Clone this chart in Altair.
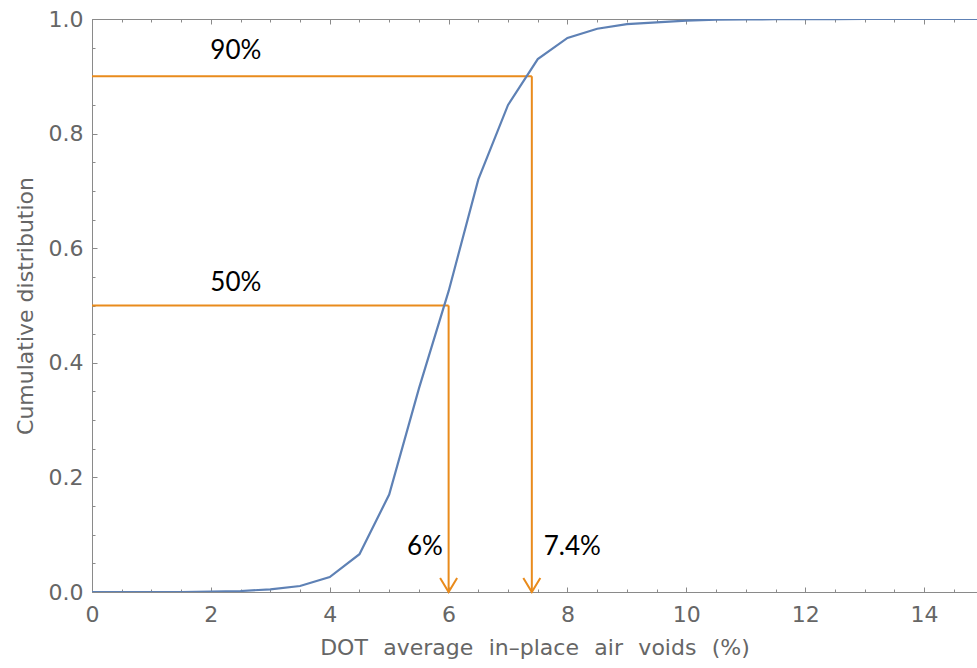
import altair as alt
import pandas as pd

# Cumulative distribution of DOT average in-place air voids (%)
voids = [0, 0.5, 1, 1.5, 2, 2.5, 3, 3.5, 4, 4.5, 5, 5.5, 6, 6.5, 7, 7.5,
         8, 8.5, 9, 9.5, 10, 10.5, 11, 11.5, 12, 12.5, 13, 13.5, 14, 14.5, 15]
cdf = [0, 0, 0, 0, 0.0005, 0.0017, 0.0047, 0.0105, 0.026, 0.066, 0.17, 0.355,
       0.525, 0.72, 0.85, 0.93, 0.967, 0.983, 0.991, 0.994, 0.997, 0.999,
       0.9993, 0.9996, 0.9998, 0.9999, 1, 1, 1, 1, 1]

# Percentile read-offs: cumulative level and the air-void value at that level
pct_levels = [0.5, 0.9]
pct_values = [6.0, 7.4]

# Annotation texts and their anchor points (data units)
label_text = ["90%", "50%", "6%", "7.4%"]
label_x = [2.42, 2.42, 5.6, 8.08]
label_y = [0.944, 0.539, 0.078, 0.078]

# Axis ticks
x_major = [0, 2, 4, 6, 8, 10, 12, 14]
x_minor = [i * 0.5 for i in range(30)]
y_major = [0, 0.2, 0.4, 0.6, 0.8, 1.0]
y_minor = [round(i * 0.05, 2) for i in range(21)]

X_MIN, X_MAX = 0, 14.89
W, H = 885, 573

BLUE = "#5E81B5"
ORANGE = "#E98B1C"
FRAME = "#8a8a8a"
TEXT_GRAY = "#666666"
AXIS_FONT = "DejaVu Sans"

curve = pd.DataFrame({"voids": voids, "cdf": cdf})
pct = pd.DataFrame({
    "level": pct_levels,
    "value": pct_values,
    "start": [X_MIN] * len(pct_levels),
    "base": [0.0] * len(pct_levels),
})
labels = pd.DataFrame({"label": label_text, "lx": label_x, "ly": label_y})

xs = alt.Scale(domain=[X_MIN, X_MAX], nice=False, zero=False)
ys = alt.Scale(domain=[0, 1], nice=False, zero=False)


def tick_axis(orient, offset, values, size, domain=False):
    """Tick-only axis, pushed onto the frame edge so the ticks point inward."""
    return alt.Axis(
        orient=orient, offset=offset, values=values, labels=False,
        domain=domain, domainColor=FRAME, domainWidth=1,
        ticks=True, tickSize=size, tickColor=FRAME, tickWidth=1,
        grid=False, title=None,
    )


x_main = alt.Axis(
    orient="bottom", values=x_major, format="d", labelFlush=False,
    ticks=False, tickSize=0, domain=True, domainColor=FRAME, domainWidth=1,
    grid=False, labelFont=AXIS_FONT, labelFontSize=22, labelColor=TEXT_GRAY,
    labelPadding=12,
    title="DOT\u2002\u2009average\u2002\u2009in\u2013place\u2002\u2009air\u2002\u2009voids\u2002\u2009(%)",
    titleFont=AXIS_FONT, titleFontSize=22, titleFontWeight="normal",
    titleColor=TEXT_GRAY, titlePadding=12,
)
y_main = alt.Axis(
    orient="left", values=y_major, format=".1f",
    ticks=False, tickSize=0, domain=True, domainColor=FRAME, domainWidth=1,
    grid=False, labelFont=AXIS_FONT, labelFontSize=22, labelColor=TEXT_GRAY,
    labelPadding=9, title="Cumulative distribution",
    titleFont=AXIS_FONT, titleFontSize=22, titleFontWeight="normal",
    titleColor=TEXT_GRAY, titlePadding=11,
)

# Horizontal read-off lines from the y axis to the percentile value
hrules = alt.Chart(pct).mark_rule(color=ORANGE, strokeWidth=2).encode(
    x=alt.X("start:Q", scale=xs, axis=tick_axis("top", -H, x_major, 5)),
    x2="value:Q",
    y=alt.Y("level:Q", scale=ys, axis=tick_axis("right", -W, y_major, 5)),
)

# Vertical drop lines down to the x axis
vrules = alt.Chart(pct).mark_rule(color=ORANGE, strokeWidth=2).encode(
    x=alt.X("value:Q", scale=xs, axis=tick_axis("top", -H, x_minor, 3)),
    y=alt.Y("level:Q", scale=ys, axis=tick_axis("right", -W, y_minor, 3)),
    y2="base:Q",
)

line = alt.Chart(curve).mark_line(color=BLUE, strokeWidth=2.2, clip=True).encode(
    x=alt.X("voids:Q", scale=xs, axis=x_main),
    y=alt.Y("cdf:Q", scale=ys, axis=y_main),
)

# Open arrowheads where the drop lines meet the x axis
arrows = alt.Chart(pct).mark_point(
    shape="M-1,-1.65L0,0L1,-1.65", size=289, filled=False,
    color=ORANGE, strokeWidth=2, opacity=1,
).encode(
    x=alt.X("value:Q", scale=xs, axis=tick_axis("bottom", -H, x_major, 5, domain=True)),
    y=alt.Y("base:Q", scale=ys, axis=None),
)

texts = alt.Chart(labels).mark_text(
    font="Lato", fontSize=26, color="black", align="center", baseline="middle",
).encode(
    x=alt.X("lx:Q", scale=xs, axis=tick_axis("bottom", -H, x_minor, 3)),
    y=alt.Y("ly:Q", scale=ys, axis=None),
    text="label:N",
)

chart = (
    alt.layer(hrules, vrules, line, arrows, texts)
    .resolve_axis(x="independent", y="independent")
    .properties(
        width=W, height=H,
        autosize=alt.AutoSizeParams(type="none"),
        padding={"left": 92, "top": 19, "right": 0, "bottom": 76},
        background="white",
    )
    .configure_view(stroke=None)
)

chart.save("out.html", embed_options={"renderer": "svg", "actions": False})
